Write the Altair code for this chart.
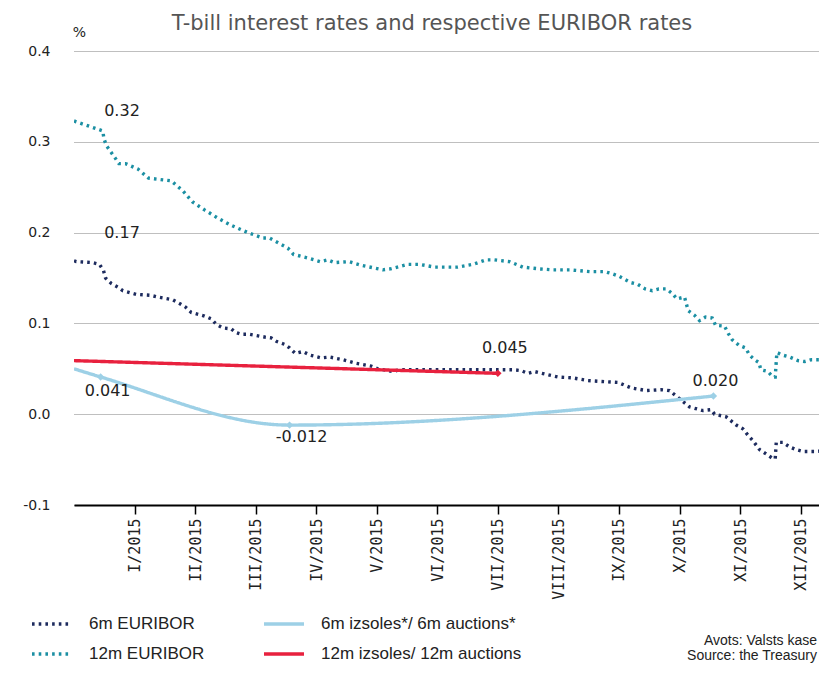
import altair as alt
import pandas as pd

# ---------------- data (x in months since 1 Jan 2015, y in %) ----------------
e6_m = [0.0, 0.037, 0.301, 0.422, 0.488, 0.521, 0.615, 0.724, 0.807, 1.028, 1.259, 1.385,
        1.633, 1.743, 1.842, 1.936, 2.156, 2.267, 2.349, 2.458, 2.597, 2.668, 2.762, 2.899,
        3.147, 3.258, 3.350, 3.477, 3.560, 3.654, 3.779, 3.902, 4.083, 4.220, 4.440, 4.661,
        4.909, 5.018, 5.266, 5.377, 6.092, 6.974, 7.248, 7.386, 7.495, 7.606, 7.854, 7.991,
        8.239, 8.486, 8.982, 9.092, 9.203, 9.451, 9.698, 9.836, 9.946, 10.166, 10.386, 10.524,
        10.579, 10.772, 10.937, 11.046, 11.129, 11.211, 11.322, 11.459, 11.542, 11.581, 11.598,
        11.707, 11.818, 11.928, 12.037, 12.258, 12.424, 12.643]
e6_v = [0.169, 0.168, 0.167, 0.165, 0.158, 0.150, 0.144, 0.140, 0.136, 0.132, 0.131, 0.129,
        0.126, 0.122, 0.118, 0.112, 0.108, 0.105, 0.099, 0.095, 0.094, 0.090, 0.088, 0.088,
        0.085, 0.084, 0.080, 0.077, 0.073, 0.067, 0.069, 0.065, 0.062, 0.063, 0.060, 0.056,
        0.053, 0.050, 0.047, 0.049, 0.049, 0.049, 0.049, 0.048, 0.045, 0.047, 0.043, 0.041,
        0.040, 0.037, 0.035, 0.032, 0.029, 0.026, 0.027, 0.026, 0.020, 0.008, 0.004, 0.005,
        0.000, -0.003, -0.012, -0.016, -0.023, -0.029, -0.039, -0.045, -0.049, -0.049, -0.031,
        -0.031, -0.036, -0.039, -0.041, -0.041, -0.040, -0.040]

e12_m = [0.0, 0.037, 0.476, 0.493, 0.533, 0.681, 0.741, 0.851, 1.054, 1.231, 1.606, 1.798,
         1.953, 2.156, 2.376, 2.597, 2.871, 3.119, 3.230, 3.532, 3.626, 3.862, 4.067, 4.192,
         4.303, 4.539, 4.744, 5.101, 5.223, 5.514, 5.707, 5.955, 6.339, 6.587, 6.808, 6.945,
         7.193, 7.413, 7.689, 7.908, 8.184, 8.515, 8.762, 8.873, 8.998, 9.192, 9.312, 9.434,
         9.550, 9.659, 9.781, 9.880, 9.956, 10.083, 10.144, 10.248, 10.331, 10.430, 10.541,
         10.595, 10.744, 10.805, 10.871, 10.980, 11.091, 11.157, 11.240, 11.310, 11.344,
         11.459, 11.542, 11.581, 11.608, 11.707, 11.818, 11.955, 12.065, 12.176, 12.424, 12.643]
e12_v = [0.323, 0.322, 0.312, 0.304, 0.296, 0.282, 0.276, 0.276, 0.270, 0.260, 0.257, 0.246,
         0.234, 0.225, 0.216, 0.208, 0.200, 0.194, 0.194, 0.183, 0.176, 0.172, 0.168, 0.170,
         0.167, 0.168, 0.164, 0.159, 0.160, 0.165, 0.165, 0.162, 0.162, 0.165, 0.170, 0.170,
         0.168, 0.162, 0.160, 0.159, 0.159, 0.157, 0.157, 0.155, 0.152, 0.145, 0.143, 0.138,
         0.136, 0.138, 0.138, 0.133, 0.127, 0.129, 0.114, 0.109, 0.103, 0.107, 0.106,
         0.098, 0.097, 0.089, 0.082, 0.076, 0.073, 0.065, 0.060, 0.057, 0.049,
         0.047, 0.041, 0.041, 0.068, 0.065, 0.063, 0.059, 0.058, 0.060, 0.060, 0.060]

a6_m = [0.0, 0.44, 3.56, 10.56]
a6_v = [0.050, 0.041, -0.012, 0.020]
a6_marker = [False, True, True, True]

a12_m = [0.0, 7.0]
a12_v = [0.059, 0.045]
a12_marker = [False, True]

month_labels = ["I", "II", "III", "IV", "V", "VI", "VII", "VIII", "IX", "X", "XI", "XII"]
month_ticks = list(range(1, 13))
year_suffix = "/2015"
y_ticks = [-0.1, 0.0, 0.1, 0.2, 0.3, 0.4]

S6E, S12E = "6m EURIBOR", "12m EURIBOR"
S6A, S12A = "6m izsoles*/ 6m auctions*", "12m izsoles/ 12m auctions"
# legend fills column by column: EURIBOR column first, auctions column second
series_order = [S6E, S12E, S6A, S12A]

title_text = "T-bill interest rates and respective EURIBOR rates"
source_lines = ["Avots: Valsts kase", "Source: the Treasury"]

# ---------------- styles ----------------
C6E, C12E, C6A, C12A = "#1d2b5e", "#1b8fa3", "#9dd0e6", "#e8213e"
colors = [C6E, C12E, C6A, C12A]
dashes = [[2.6, 4.1], [2.6, 4.1], [1, 0], [1, 0]]
widths = [3.4, 3.4, 4, 4]
SANS = "DejaVu Sans"
MINUS = "\u2212"

PLOT_W, PLOT_H = 745, 454
X_MAX = PLOT_W / 60.55

def frame(ms, vs, name, extra=None):
    d = pd.DataFrame({"m": ms, "v": vs, "series": name})
    if extra is not None:
        d["marker"] = extra
    return d

df_e = pd.concat([frame(e6_m, e6_v, S6E), frame(e12_m, e12_v, S12E)], ignore_index=True)
df_a6 = frame(a6_m, a6_v, S6A, a6_marker)
df_a12 = frame(a12_m, a12_v, S12A, a12_marker)

label_expr = "[" + ",".join("'%s'" % s for s in month_labels) + "][datum.value-1] + '%s'" % year_suffix
y_label_expr = "replace(format(datum.value, '.1f'), '%s', '-')" % MINUS

x_enc = alt.X("m:Q",
              scale=alt.Scale(domain=[0, X_MAX], nice=False, zero=False),
              axis=alt.Axis(values=month_ticks, labelExpr=label_expr, title=None, grid=False,
                            domainColor="#000000", domainWidth=2, ticks=True, tickColor="#000000",
                            tickSize=9, tickWidth=1.5, labelAngle=270, labelFont="DejaVu Sans Mono",
                            labelFontSize=15, labelColor="#222222", labelPadding=4))
y_enc = alt.Y("v:Q",
              scale=alt.Scale(domain=[-0.1, 0.4], nice=False, zero=False),
              axis=alt.Axis(values=y_ticks, labelExpr=y_label_expr, title="%", titleAngle=0,
                            titleX=5, titleY=-19, titleAlign="center", titleBaseline="middle",
                            titleFont=SANS, titleFontSize=14, titleFontWeight="normal",
                            titleColor="#222222", domain=False, ticks=False, grid=True,
                            gridColor="#7f7f7f", gridWidth=1, gridDash=[1, 1],
                            labelPadding=24, labelFont=SANS, labelFontSize=14,
                            labelColor="#222222"))

legend = alt.Legend(title=None, orient="none", legendX=-44, legendY=551, columns=2,
                    symbolType="stroke", symbolSize=1600, labelFont="Liberation Sans",
                    labelFontSize=17, labelColor="#222222", labelOffset=15,
                    columnPadding=52, rowPadding=0, labelLimit=400)

color_enc = alt.Color("series:N", scale=alt.Scale(domain=series_order, range=colors), legend=legend)
dash_enc = alt.StrokeDash("series:N", scale=alt.Scale(domain=series_order, range=dashes), legend=legend)
width_enc = alt.StrokeWidth("series:N", scale=alt.Scale(domain=series_order, range=widths), legend=legend)

def line_layer(df, interp):
    return alt.Chart(df).mark_line(clip=True, interpolate=interp).encode(
        x=x_enc, y=y_enc, color=color_enc, strokeDash=dash_enc, strokeWidth=width_enc,
        detail="series:N", order="m:Q")

lines_e = line_layer(df_e, "linear")
line_a6 = line_layer(df_a6, "monotone")
line_a12 = line_layer(df_a12, "linear")

mk_a6 = alt.Chart(df_a6).transform_filter("datum.marker").mark_point(
    shape="diamond", filled=True, size=55, color=C6A, opacity=1).encode(x="m:Q", y="v:Q")
mk_a12 = alt.Chart(df_a12).transform_filter("datum.marker").mark_point(
    shape="diamond", filled=True, size=55, color=C12A, opacity=1).encode(x="m:Q", y="v:Q")

# data labels anchored on data points (offsets are styling)
label_specs = [
    (e12_m[0], e12_v[0], ".2f", 48, -10),
    (e6_m[0], e6_v[0], ".2f", 48, -28),
    (a6_m[1], a6_v[1], ".3f", 7, 14),
    (a6_m[2], a6_v[2], ".3f", 12, 12),
    (a12_m[1], a12_v[1], ".3f", 7, -25),
    (a6_m[3], a6_v[3], ".3f", 2, -15),
]
label_layers = []
for m, v, fmt, dx, dy in label_specs:
    label_layers.append(
        alt.Chart(pd.DataFrame({"m": [m], "v": [v]}))
        .transform_calculate(lbl="replace(format(datum.v, '%s'), '%s', '-')" % (fmt, MINUS))
        .mark_text(font=SANS, fontSize=16, color="#222222", dx=dx, dy=dy, align="center",
                   baseline="middle")
        .encode(x="m:Q", y="v:Q", text="lbl:N"))

title_layer = alt.Chart(pd.DataFrame({"t": [title_text]})).mark_text(
    font=SANS, fontSize=21, color="#555555", align="center", baseline="alphabetic", clip=False
).encode(x=alt.value(358), y=alt.value(-21), text="t:N")

src_layers = [
    alt.Chart(pd.DataFrame({"t": [source_lines[0]]})).mark_text(
        font="Liberation Sans", fontSize=14, color="#222222", align="right", baseline="middle"
    ).encode(x=alt.value(743), y=alt.value(590), text="t:N"),
    alt.Chart(pd.DataFrame({"t": [source_lines[1]]})).mark_text(
        font="Liberation Sans", fontSize=14, color="#222222", align="right", baseline="middle"
    ).encode(x=alt.value(743), y=alt.value(605), text="t:N"),
]

chart = alt.layer(lines_e, line_a6, line_a12, mk_a6, mk_a12, *label_layers, title_layer,
                  *src_layers).properties(
    width=PLOT_W, height=PLOT_H,
    autosize=alt.AutoSizeParams(type="none"),
    padding={"left": 66, "top": 43, "right": 0, "bottom": 159},
).configure_view(stroke=None)

chart.save("out.html", embed_options={"renderer": "svg", "actions": False})
